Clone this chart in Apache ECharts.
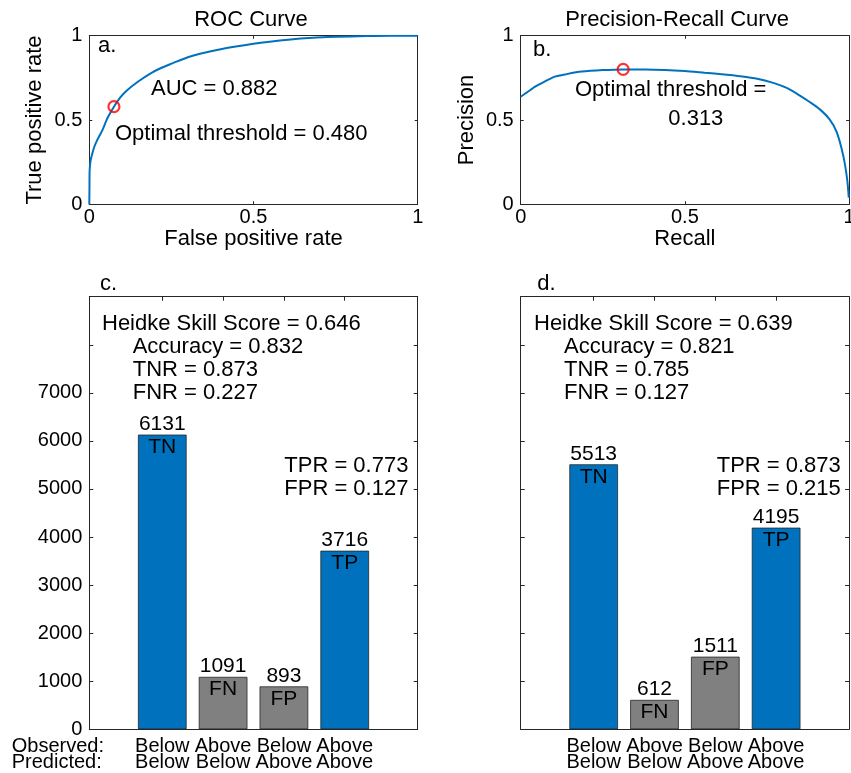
<!DOCTYPE html>
<html>
<head>
<meta charset="utf-8">
<script src="https://cdn.jsdelivr.net/npm/echarts@6/dist/echarts.min.js"></script>
<style>html,body{margin:0;padding:0;background:#fff;}#chart{width:851px;height:773px;}</style>
</head>
<body>
<div id="chart"></div>
<script>
// ---------- data ----------
const rocFpr = [0, 0.0005, 0.001, 0.004, 0.009, 0.015, 0.024, 0.04, 0.055, 0.075, 0.095, 0.116, 0.15, 0.187, 0.22, 0.253, 0.3, 0.337, 0.4, 0.5, 0.58, 0.692, 0.845, 0.92, 1];
const rocTpr = [0, 0.1, 0.2, 0.26, 0.3, 0.34, 0.381, 0.44, 0.51, 0.579, 0.635, 0.678, 0.73, 0.777, 0.81, 0.836, 0.872, 0.893, 0.92, 0.952, 0.972, 0.99, 0.998, 1, 1];
const rocOptimal = [0.075, 0.579];

const prRecall = [0, 0.02, 0.044, 0.07, 0.104, 0.14, 0.186, 0.25, 0.312, 0.38, 0.439, 0.5, 0.56, 0.62, 0.667, 0.72, 0.769, 0.81, 0.85, 0.88, 0.911, 0.94, 0.962, 0.982, 0.994, 0.999];
const prPrecision = [0.638, 0.665, 0.698, 0.725, 0.757, 0.772, 0.787, 0.796, 0.8, 0.8, 0.797, 0.79, 0.78, 0.77, 0.76, 0.745, 0.72, 0.69, 0.645, 0.607, 0.563, 0.505, 0.43, 0.29, 0.15, 0.04];
const prOptimal = [0.312, 0.80];

const barCodes = ['TN', 'FN', 'FP', 'TP'];
const observedLabels = ['Below', 'Above', 'Below', 'Above'];
const predictedLabels = ['Below', 'Below', 'Above', 'Above'];
const countsC = [6131, 1091, 893, 3716];
const countsD = [5513, 612, 1511, 4195];
const barYMax = 9000;
const barYLabelMax = 7000;

const statsC = ['Heidke Skill Score = 0.646', 'Accuracy = 0.832', 'TNR = 0.873', 'FNR = 0.227'];
const ratesC = ['TPR = 0.773', 'FPR = 0.127'];
const statsD = ['Heidke Skill Score = 0.639', 'Accuracy = 0.821', 'TNR = 0.785', 'FNR = 0.127'];
const ratesD = ['TPR = 0.873', 'FPR = 0.215'];

// ---------- styling / layout ----------
const FONT = '"Liberation Sans", Arial, Helvetica, sans-serif';
const AX = '#262626';
const BLUE = '#0072BD';
const GRAY = '#808080';
const grids = [
  {left: 89.3, top: 35.7, width: 328.4, height: 168.6},
  {left: 520.7, top: 35.7, width: 328.4, height: 168.6},
  {left: 89.3, top: 296.7, width: 328.4, height: 432.6},
  {left: 520.7, top: 296.7, width: 328.4, height: 432.6}
];
const barXMin = -0.2, barXMax = 5.2;
const barPositions = barCodes.map((c, i) => i + 1);

function axisPair(dim, g, cfg) {
  const base = {
    gridIndex: g, type: 'value', min: cfg.min, max: cfg.max,
    axisLine: {show: true, onZero: false, lineStyle: {color: AX, width: 1}},
    splitLine: {show: false},
    axisTick: {show: true, inside: true, length: cfg.tl, lineStyle: {color: AX, width: 1}}
  };
  if (cfg.interval != null) base.interval = cfg.interval;
  if (cfg.custom) base.axisTick.customValues = cfg.custom;
  const main = Object.assign({}, base, {
    position: dim === 'x' ? 'bottom' : 'left',
    axisLabel: Object.assign({show: cfg.labels !== false, color: '#000', fontSize: 20, fontFamily: FONT, margin: cfg.margin}, cfg.labelExtra || {}),
    name: cfg.name || '', nameLocation: 'middle', nameGap: cfg.nameGap,
    nameTextStyle: {fontSize: 22, fontFamily: FONT, color: '#000'}
  });
  const mirror = Object.assign({}, base, {
    position: dim === 'x' ? 'top' : 'right',
    axisLabel: {show: false}
  });
  return [main, mirror];
}

const xAxes = [], yAxes = [];
// a
xAxes.push(...axisPair('x', 0, {min: 0, max: 1, interval: 0.5, tl: 3, margin: 3, name: 'False positive rate', nameGap: 24}));
yAxes.push(...axisPair('y', 0, {min: 0, max: 1, interval: 0.5, tl: 3, margin: 7, name: 'True positive rate', nameGap: 43}));
// b
xAxes.push(...axisPair('x', 1, {min: 0, max: 1, interval: 0.5, tl: 3, margin: 3, name: 'Recall', nameGap: 24}));
yAxes.push(...axisPair('y', 1, {min: 0, max: 1, interval: 0.5, tl: 3, margin: 7, name: 'Precision', nameGap: 43}));
// c, d
[2, 3].forEach(g => {
  xAxes.push(...axisPair('x', g, {
    min: barXMin, max: barXMax, tl: 4, margin: 9, custom: barPositions,
    labelExtra: {
      customValues: barPositions, fontSize: 20, lineHeight: 16,
      formatter: v => { const i = Math.round(v) - 1; return observedLabels[i] + '\n' + predictedLabels[i]; }
    }
  }));
  yAxes.push(...axisPair('y', g, {
    min: 0, max: barYMax, interval: 1000, tl: 4, margin: 7, labels: g === 2,
    labelExtra: {formatter: v => (v <= barYLabelMax ? String(v) : '')}
  }));
});

const barWidthPx = 0.8 * grids[2].width / (barXMax - barXMin);

function barSeries(g, counts) {
  return {
    type: 'bar', xAxisIndex: 2 * g, yAxisIndex: 2 * g, barWidth: barWidthPx,
    data: counts.map((v, i) => ({
      value: [barPositions[i], v],
      itemStyle: {color: observedLabels[i] === predictedLabels[i] ? BLUE : GRAY, borderColor: AX, borderWidth: 0.8}
    })),
    label: {
      show: true, position: 'top', distance: 0, offset: [0, 24],
      formatter: p => '{v|' + p.value[1] + '}\n{t|' + barCodes[p.dataIndex] + '}',
      rich: {
        v: {fontSize: 21, fontFamily: FONT, color: '#000', lineHeight: 23},
        t: {fontSize: 21, fontFamily: FONT, color: '#000', lineHeight: 23}
      }
    },
    animation: false
  };
}

function lineSeries(g, xs, ys) {
  return {
    type: 'line', xAxisIndex: 2 * g, yAxisIndex: 2 * g,
    data: xs.map((x, i) => [x, ys[i]]), showSymbol: false, smooth: 0.25,
    lineStyle: {color: BLUE, width: 2}, itemStyle: {color: BLUE}, animation: false
  };
}
function markerSeries(g, pt) {
  return {
    type: 'scatter', xAxisIndex: 2 * g, yAxisIndex: 2 * g, data: [pt],
    symbol: 'circle', symbolSize: 11,
    itemStyle: {color: 'rgba(255,255,255,0)', borderColor: '#FF0000', borderWidth: 2.2}, animation: false, z: 5
  };
}

function txt(text, x, y, size, align) {
  return {type: 'text', x: x, y: y, z: 10,
    style: {text: text, fontSize: size, fontFamily: FONT, fill: '#000', align: align || 'left', verticalAlign: 'middle'}};
}
const lineStep = 23;
const graphics = [
  txt('ROC Curve', 251, 20, 22, 'center'),
  txt('Precision-Recall Curve', 677, 20, 22, 'center'),
  txt('a.', 98, 46, 22),
  txt('b.', 533, 50, 22),
  txt('AUC = 0.882', 151, 89, 22),
  txt('Optimal threshold = 0.480', 115, 133.7, 22),
  txt('Optimal threshold =', 575, 90.3, 22),
  txt('0.313', 668.3, 119.2, 22),
  txt('c.', 100, 283.7, 22),
  txt('d.', 537.3, 283.7, 22),
  {type: 'text', x: 11.7, y: 738.7, z: 10,
    style: {text: 'Observed:\nPredicted:', fontSize: 20, lineHeight: 16, fontFamily: FONT, fill: '#000', align: 'left', verticalAlign: 'top'}}
];
statsC.forEach((s, i) => graphics.push(txt(s, i === 0 ? 102 : 132.7, 323.7 + i * lineStep, 22)));
ratesC.forEach((s, i) => graphics.push(txt(s, 284.3, 465.5 + i * lineStep, 22)));
statsD.forEach((s, i) => graphics.push(txt(s, i === 0 ? 534 : 564, 323.7 + i * lineStep, 22)));
ratesD.forEach((s, i) => graphics.push(txt(s, 716.7, 465.5 + i * lineStep, 22)));

const option = {
  backgroundColor: '#fff',
  animation: false,
  grid: grids.map(g => Object.assign({containLabel: false, outerBoundsMode: 'none'}, g)),
  xAxis: xAxes,
  yAxis: yAxes,
  series: [
    lineSeries(0, rocFpr, rocTpr),
    markerSeries(0, rocOptimal),
    lineSeries(1, prRecall, prPrecision),
    markerSeries(1, prOptimal),
    barSeries(2, countsC),
    barSeries(3, countsD)
  ],
  graphic: graphics
};

const chart = echarts.init(document.getElementById('chart'), null, {renderer: 'canvas'});
chart.setOption(option);
</script>
</body>
</html>
